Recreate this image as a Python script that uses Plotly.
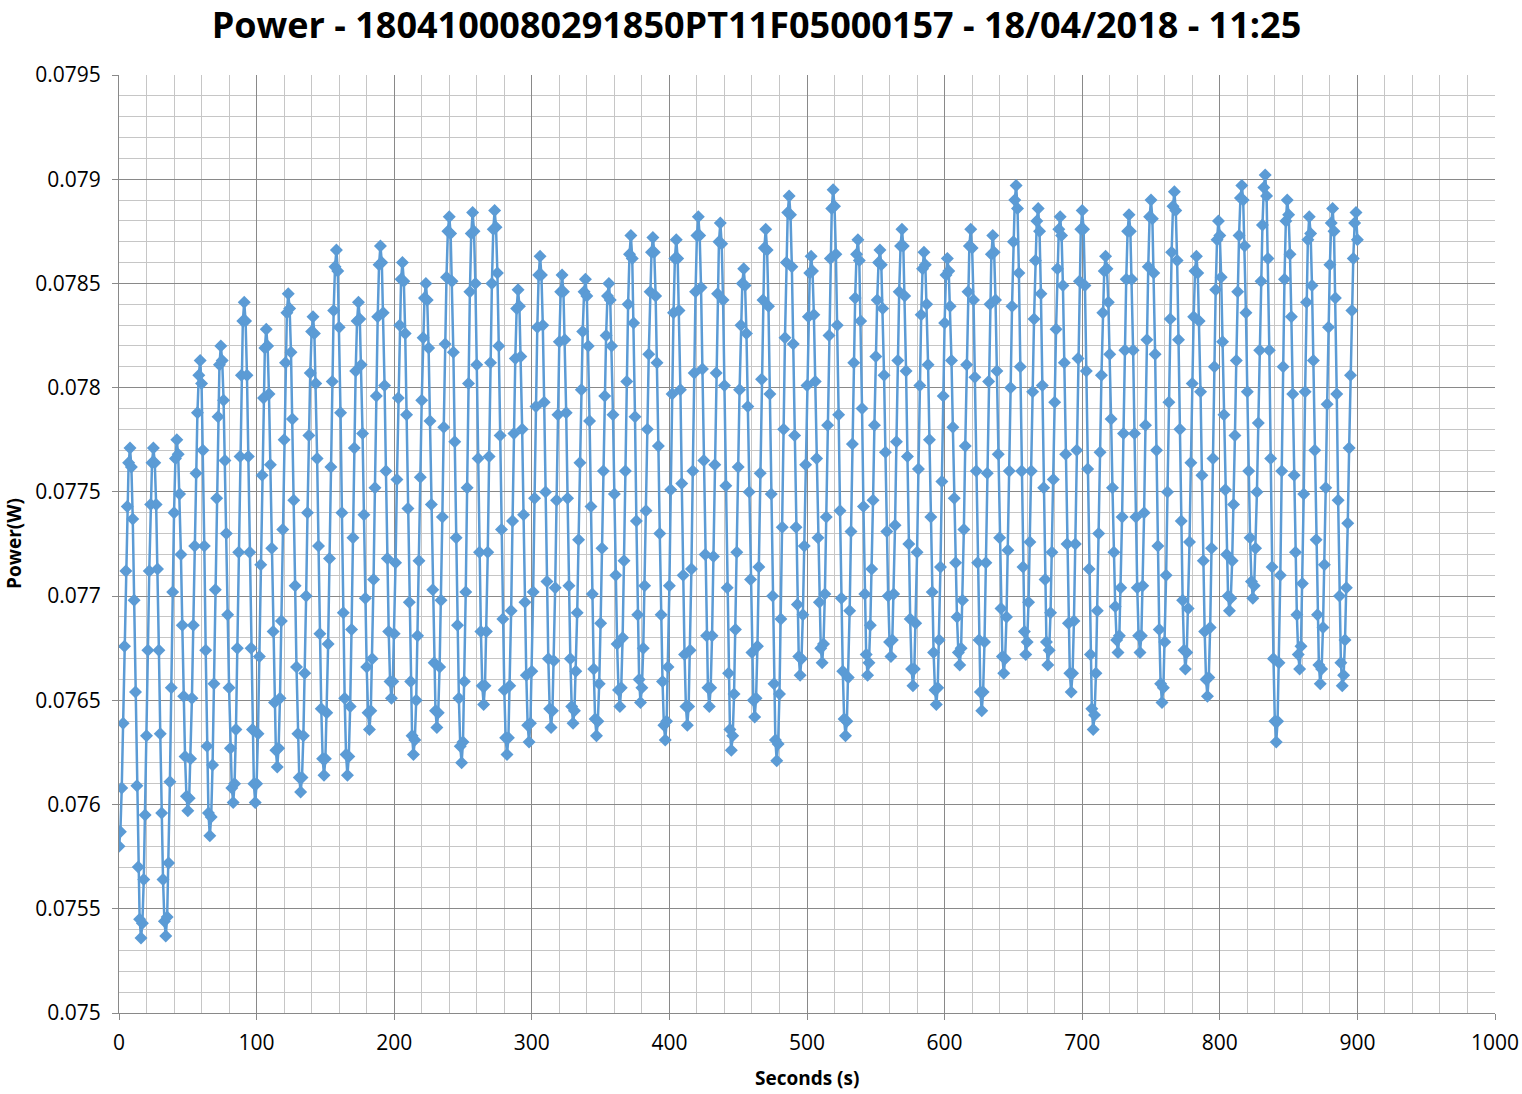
import plotly.graph_objects as go

# Power readings (W), one sample per second, starting at t = 0 s
power_000_099 = [
    0.07580, 0.07587, 0.07608, 0.07639, 0.07676, 0.07712, 0.07743, 0.07764, 0.07771,
    0.07762, 0.07737, 0.07698, 0.07654, 0.07609, 0.07570, 0.07545, 0.07536,
    0.07543, 0.07564, 0.07595, 0.07633, 0.07674, 0.07712, 0.07744, 0.07764, 0.07771,
    0.07764, 0.07744, 0.07713, 0.07674, 0.07634, 0.07596, 0.07564, 0.07544, 0.07537,
    0.07546, 0.07572, 0.07611, 0.07656, 0.07702, 0.07740, 0.07766, 0.07775,
    0.07768, 0.07749, 0.07720, 0.07686, 0.07652, 0.07623, 0.07604, 0.07597,
    0.07603, 0.07622, 0.07651, 0.07686, 0.07724, 0.07759, 0.07788, 0.07806, 0.07813,
    0.07802, 0.07770, 0.07724, 0.07674, 0.07628, 0.07596, 0.07585,
    0.07594, 0.07619, 0.07658, 0.07703, 0.07747, 0.07786, 0.07811, 0.07820,
    0.07813, 0.07794, 0.07765, 0.07730, 0.07691, 0.07656, 0.07627, 0.07608, 0.07601,
    0.07610, 0.07636, 0.07675, 0.07721, 0.07767, 0.07806, 0.07832, 0.07841,
    0.07832, 0.07806, 0.07767, 0.07721, 0.07675, 0.07636, 0.07610, 0.07601,
]
power_100_199 = [
    0.07610, 0.07634, 0.07671, 0.07715, 0.07758, 0.07795, 0.07819, 0.07828,
    0.07820, 0.07797, 0.07763, 0.07723, 0.07683, 0.07649, 0.07626, 0.07618,
    0.07627, 0.07651, 0.07688, 0.07732, 0.07775, 0.07812, 0.07836, 0.07845,
    0.07838, 0.07817, 0.07785, 0.07746, 0.07705, 0.07666, 0.07634, 0.07613, 0.07606,
    0.07613, 0.07633, 0.07663, 0.07700, 0.07740, 0.07777, 0.07807, 0.07827, 0.07834,
    0.07826, 0.07802, 0.07766, 0.07724, 0.07682, 0.07646, 0.07622, 0.07614,
    0.07622, 0.07644, 0.07677, 0.07718, 0.07762, 0.07803, 0.07837, 0.07858, 0.07866,
    0.07856, 0.07829, 0.07788, 0.07740, 0.07692, 0.07651, 0.07624, 0.07614,
    0.07623, 0.07647, 0.07684, 0.07728, 0.07771, 0.07808, 0.07832, 0.07841,
    0.07833, 0.07811, 0.07778, 0.07739, 0.07699, 0.07666, 0.07644, 0.07636,
    0.07645, 0.07670, 0.07708, 0.07752, 0.07796, 0.07834, 0.07859, 0.07868,
    0.07860, 0.07836, 0.07801, 0.07760, 0.07718, 0.07683, 0.07659, 0.07651,
    0.07659,
]
power_200_299 = [
    0.07682, 0.07716, 0.07756, 0.07795, 0.07830, 0.07852, 0.07860,
    0.07851, 0.07826, 0.07787, 0.07742, 0.07697, 0.07659, 0.07633, 0.07624,
    0.07631, 0.07650, 0.07681, 0.07717, 0.07757, 0.07794, 0.07824, 0.07843, 0.07850,
    0.07842, 0.07819, 0.07784, 0.07744, 0.07703, 0.07668, 0.07645, 0.07637,
    0.07644, 0.07666, 0.07698, 0.07738, 0.07781, 0.07821, 0.07853, 0.07875, 0.07882,
    0.07874, 0.07851, 0.07817, 0.07774, 0.07728, 0.07686, 0.07651, 0.07628, 0.07620,
    0.07630, 0.07659, 0.07702, 0.07752, 0.07802, 0.07846, 0.07874, 0.07884,
    0.07875, 0.07850, 0.07811, 0.07766, 0.07721, 0.07683, 0.07657, 0.07648,
    0.07657, 0.07683, 0.07721, 0.07767, 0.07812, 0.07850, 0.07876, 0.07885,
    0.07877, 0.07855, 0.07820, 0.07777, 0.07732, 0.07689, 0.07655, 0.07632, 0.07624,
    0.07632, 0.07657, 0.07693, 0.07736, 0.07778, 0.07814, 0.07838, 0.07847,
    0.07839, 0.07815, 0.07780, 0.07739, 0.07697, 0.07662, 0.07638, 0.07630,
    0.07639,
]
power_300_399 = [
    0.07664, 0.07702, 0.07747, 0.07791, 0.07829, 0.07854, 0.07863,
    0.07854, 0.07830, 0.07793, 0.07750, 0.07707, 0.07670, 0.07646, 0.07637,
    0.07645, 0.07669, 0.07704, 0.07746, 0.07787, 0.07822, 0.07846, 0.07854,
    0.07846, 0.07823, 0.07788, 0.07747, 0.07705, 0.07670, 0.07647, 0.07639,
    0.07645, 0.07664, 0.07692, 0.07727, 0.07764, 0.07799, 0.07827, 0.07846, 0.07852,
    0.07844, 0.07820, 0.07784, 0.07743, 0.07701, 0.07665, 0.07641, 0.07633,
    0.07640, 0.07658, 0.07687, 0.07723, 0.07760, 0.07796, 0.07825, 0.07844, 0.07850,
    0.07842, 0.07820, 0.07787, 0.07749, 0.07710, 0.07677, 0.07655, 0.07647,
    0.07656, 0.07680, 0.07717, 0.07760, 0.07803, 0.07840, 0.07864, 0.07873,
    0.07862, 0.07831, 0.07786, 0.07736, 0.07691, 0.07660, 0.07649,
    0.07656, 0.07675, 0.07705, 0.07741, 0.07780, 0.07816, 0.07846, 0.07865, 0.07872,
    0.07865, 0.07844, 0.07812, 0.07772, 0.07730, 0.07691, 0.07659, 0.07638, 0.07631,
    0.07640, 0.07666,
]
power_400_499 = [
    0.07705, 0.07751, 0.07797, 0.07836, 0.07862, 0.07871,
    0.07862, 0.07837, 0.07799, 0.07754, 0.07710, 0.07672, 0.07647, 0.07638,
    0.07647, 0.07674, 0.07713, 0.07760, 0.07807, 0.07846, 0.07873, 0.07882,
    0.07873, 0.07848, 0.07809, 0.07765, 0.07720, 0.07681, 0.07656, 0.07647,
    0.07656, 0.07681, 0.07719, 0.07763, 0.07807, 0.07845, 0.07870, 0.07879,
    0.07869, 0.07842, 0.07801, 0.07753, 0.07704, 0.07663, 0.07636, 0.07626,
    0.07633, 0.07653, 0.07684, 0.07721, 0.07762, 0.07799, 0.07830, 0.07850, 0.07857,
    0.07849, 0.07826, 0.07791, 0.07750, 0.07708, 0.07673, 0.07650, 0.07642,
    0.07651, 0.07676, 0.07714, 0.07759, 0.07804, 0.07842, 0.07867, 0.07876,
    0.07866, 0.07839, 0.07797, 0.07749, 0.07700, 0.07658, 0.07631, 0.07621,
    0.07629, 0.07653, 0.07689, 0.07733, 0.07780, 0.07824, 0.07860, 0.07884, 0.07892,
    0.07883, 0.07858, 0.07821, 0.07777, 0.07733, 0.07696, 0.07671, 0.07662,
    0.07670, 0.07691, 0.07724, 0.07763,
]
power_500_599 = [
    0.07801, 0.07834, 0.07855, 0.07863,
    0.07856, 0.07835, 0.07803, 0.07766, 0.07728, 0.07697, 0.07675, 0.07668,
    0.07677, 0.07701, 0.07738, 0.07782, 0.07825, 0.07862, 0.07886, 0.07895,
    0.07887, 0.07864, 0.07830, 0.07787, 0.07741, 0.07699, 0.07664, 0.07641, 0.07633,
    0.07640, 0.07661, 0.07693, 0.07731, 0.07773, 0.07812, 0.07843, 0.07864, 0.07871,
    0.07861, 0.07832, 0.07790, 0.07743, 0.07701, 0.07672, 0.07662,
    0.07668, 0.07686, 0.07713, 0.07746, 0.07782, 0.07815, 0.07842, 0.07860, 0.07866,
    0.07859, 0.07838, 0.07806, 0.07769, 0.07731, 0.07700, 0.07678, 0.07671,
    0.07679, 0.07701, 0.07734, 0.07774, 0.07813, 0.07846, 0.07868, 0.07876,
    0.07868, 0.07844, 0.07808, 0.07767, 0.07725, 0.07689, 0.07665, 0.07657,
    0.07665, 0.07687, 0.07721, 0.07761, 0.07801, 0.07835, 0.07857, 0.07865,
    0.07859, 0.07840, 0.07811, 0.07775, 0.07738, 0.07702, 0.07673, 0.07655, 0.07648,
    0.07656, 0.07679, 0.07714, 0.07755, 0.07796,
]
power_600_699 = [
    0.07831, 0.07854, 0.07862,
    0.07856, 0.07839, 0.07813, 0.07781, 0.07747, 0.07716, 0.07690, 0.07673, 0.07667,
    0.07675, 0.07698, 0.07732, 0.07772, 0.07811, 0.07846, 0.07868, 0.07876,
    0.07867, 0.07842, 0.07805, 0.07760, 0.07716, 0.07679, 0.07654, 0.07645,
    0.07654, 0.07678, 0.07716, 0.07759, 0.07803, 0.07840, 0.07864, 0.07873,
    0.07865, 0.07842, 0.07808, 0.07768, 0.07728, 0.07694, 0.07671, 0.07663,
    0.07670, 0.07690, 0.07722, 0.07760, 0.07800, 0.07839, 0.07870, 0.07890, 0.07897,
    0.07886, 0.07855, 0.07810, 0.07760, 0.07714, 0.07683, 0.07672,
    0.07678, 0.07697, 0.07726, 0.07760, 0.07798, 0.07833, 0.07861, 0.07880, 0.07886,
    0.07875, 0.07845, 0.07801, 0.07752, 0.07708, 0.07678, 0.07667,
    0.07674, 0.07692, 0.07721, 0.07756, 0.07793, 0.07828, 0.07857, 0.07876, 0.07882,
    0.07873, 0.07849, 0.07812, 0.07768, 0.07725, 0.07687, 0.07663, 0.07654,
    0.07663, 0.07688, 0.07725, 0.07770, 0.07814, 0.07851, 0.07876,
]
power_700_799 = [
    0.07885,
    0.07876, 0.07849, 0.07808, 0.07761, 0.07713, 0.07672, 0.07646, 0.07636,
    0.07643, 0.07663, 0.07693, 0.07730, 0.07769, 0.07806, 0.07836, 0.07856, 0.07863,
    0.07857, 0.07841, 0.07816, 0.07785, 0.07752, 0.07721, 0.07695, 0.07679, 0.07673,
    0.07681, 0.07704, 0.07738, 0.07778, 0.07818, 0.07852, 0.07875, 0.07883,
    0.07875, 0.07852, 0.07818, 0.07778, 0.07738, 0.07704, 0.07681, 0.07673,
    0.07681, 0.07705, 0.07740, 0.07782, 0.07823, 0.07858, 0.07882, 0.07890,
    0.07881, 0.07855, 0.07816, 0.07770, 0.07724, 0.07684, 0.07658, 0.07649,
    0.07656, 0.07678, 0.07710, 0.07750, 0.07793, 0.07833, 0.07865, 0.07887, 0.07894,
    0.07885, 0.07861, 0.07823, 0.07780, 0.07736, 0.07698, 0.07674, 0.07665,
    0.07673, 0.07694, 0.07726, 0.07764, 0.07802, 0.07834, 0.07856, 0.07863,
    0.07855, 0.07832, 0.07798, 0.07758, 0.07717, 0.07683, 0.07660, 0.07652,
    0.07661, 0.07685, 0.07723, 0.07766, 0.07810, 0.07847, 0.07871, 0.07880,
]
power_800_900 = [
    0.07873, 0.07853, 0.07822, 0.07787, 0.07751, 0.07720, 0.07700, 0.07693,
    0.07699, 0.07717, 0.07744, 0.07777, 0.07813, 0.07846, 0.07873, 0.07891, 0.07897,
    0.07890, 0.07868, 0.07836, 0.07798, 0.07760, 0.07728, 0.07707, 0.07699,
    0.07705, 0.07723, 0.07750, 0.07783, 0.07818, 0.07851, 0.07878, 0.07896, 0.07902,
    0.07892, 0.07862, 0.07818, 0.07766, 0.07714, 0.07670, 0.07640, 0.07630,
    0.07640, 0.07668, 0.07710, 0.07760, 0.07810, 0.07852, 0.07880, 0.07890,
    0.07883, 0.07864, 0.07834, 0.07797, 0.07758, 0.07721, 0.07691, 0.07672, 0.07665,
    0.07676, 0.07706, 0.07749, 0.07798, 0.07841, 0.07871, 0.07882,
    0.07874, 0.07849, 0.07813, 0.07770, 0.07727, 0.07691, 0.07667, 0.07658,
    0.07665, 0.07685, 0.07715, 0.07752, 0.07792, 0.07829, 0.07859, 0.07879, 0.07886,
    0.07875, 0.07843, 0.07797, 0.07746, 0.07700, 0.07668, 0.07657,
    0.07662, 0.07679, 0.07704, 0.07735, 0.07771, 0.07806, 0.07837, 0.07862, 0.07879, 0.07884,
    0.07871,
]

power_w = (power_000_099 + power_100_199 + power_200_299 + power_300_399
           + power_400_499 + power_500_599 + power_600_699 + power_700_799
           + power_800_900)
sample_period_s = 1
seconds = [i * sample_period_s for i in range(len(power_w))]

x_tick_values = [0, 100, 200, 300, 400, 500, 600, 700, 800, 900, 1000]
x_tick_labels = ["0", "100", "200", "300", "400", "500", "600", "700", "800", "900", "1000"]
y_tick_values = [0.075, 0.0755, 0.076, 0.0765, 0.077, 0.0775, 0.078, 0.0785, 0.079, 0.0795]
y_tick_labels = ["0.075", "0.0755", "0.076", "0.0765", "0.077", "0.0775", "0.078", "0.0785", "0.079", "0.0795"]

title_text = "Power - 1804100080291850PT11F05000157 - 18/04/2018 - 11:25"
x_title = "Seconds (s)"
y_title = "Power(W)"

BLUE = "#5B9BD5"
MAJOR = "#898989"
MINOR = "#C6C6C6"
FONT = "Open Sans, Lato, Liberation Sans, sans-serif"

fig = go.Figure(
    go.Scatter(
        x=seconds, y=power_w, mode="lines+markers",
        line=dict(color=BLUE, width=2.5),
        marker=dict(symbol="diamond", size=10, color=BLUE),
        showlegend=False,
    )
)

axis_common = dict(
    showgrid=True, gridcolor=MAJOR, gridwidth=1,
    showline=True, linecolor=MAJOR, linewidth=1,
    ticks="outside", ticklen=6, tickcolor=MAJOR,
    zeroline=False, automargin=False,
    tickfont=dict(family=FONT, size=21, color="#000000"),
)

fig.update_xaxes(
    range=[0, 1000], tickmode="array", tickvals=x_tick_values, ticktext=x_tick_labels,
    minor=dict(dtick=20, tick0=0, showgrid=True, gridcolor=MINOR, gridwidth=1, ticks=""),
    ticklabelstandoff=5,
    **axis_common,
)
fig.update_yaxes(
    range=[0.075, 0.0795], tickmode="array", tickvals=y_tick_values, ticktext=y_tick_labels,
    minor=dict(dtick=0.0001, tick0=0.075, showgrid=True, gridcolor=MINOR, gridwidth=1, ticks=""),
    ticklabelstandoff=7,
    **axis_common,
)

fig.update_layout(
    width=1522, height=1094,
    margin=dict(l=119, r=27, t=75, b=81),
    paper_bgcolor="white", plot_bgcolor="white",
    font=dict(family=FONT, color="#000000"),
    title=dict(text="<b>" + title_text + "</b>", x=0.497, xanchor="center",
               y=1 - 25 / 1094, yanchor="middle",
               font=dict(family=FONT, size=36, color="#000000")),
    annotations=[
        dict(text="<b>" + x_title + "</b>", xref="paper", yref="paper",
             x=0.5, y=-65 / 938, xanchor="center", yanchor="middle", showarrow=False,
             font=dict(family=FONT, size=19, color="#000000")),
        dict(text="<b>" + y_title + "</b>", xref="paper", yref="paper",
             x=-105 / 1376, y=0.5, xanchor="center", yanchor="middle", showarrow=False,
             textangle=-90, font=dict(family=FONT, size=19, color="#000000")),
    ],
)

fig.write_html("out.html", config={"displayModeBar": False},
               post_script="document.body.style.margin='0';")
